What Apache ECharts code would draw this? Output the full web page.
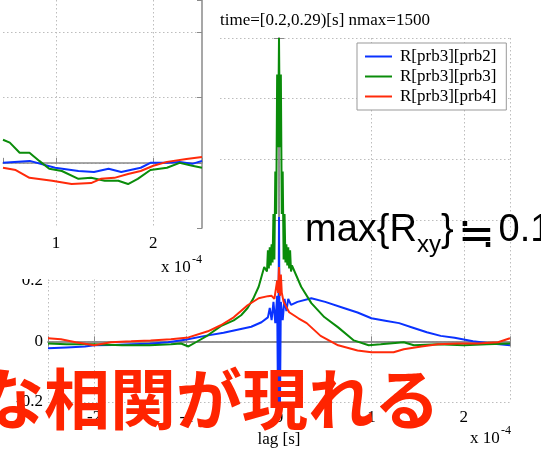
<!DOCTYPE html>
<html>
<head>
<meta charset="utf-8">
<script src="https://cdn.jsdelivr.net/npm/echarts@6/dist/echarts.min.js"></script>
<style>
html, body { margin: 0; padding: 0; background: #fff; }
#chart { width: 541px; height: 453px; }
</style>
</head>
<body>
<div id="chart"></div>
<script>
// Lag values are in units of 1e-4 s (the axes carry an "x 10^-4" multiplier).

// Main plot: cross-correlation of probe 3 with probes 2, 3, 4
const seriesNames = ['R[prb3][prb2]', 'R[prb3][prb3]', 'R[prb3][prb4]'];

const lagBlue = [-2.5,-2.3,-2.1,-2.0,-1.8,-1.6,-1.4,-1.2,-1.0,-0.8,-0.6,-0.45,-0.3,-0.19,-0.12,-0.1,-0.08,-0.06,-0.04,-0.02,-0.01,0,0.01,0.02,0.04,0.06,0.08,0.1,0.13,0.2,0.35,0.5,0.7,0.85,1.0,1.15,1.3,1.45,1.6,1.75,1.9,2.1,2.3,2.5];
const rBlue = [-0.023,-0.02,-0.017,-0.013,-0.012,-0.01,-0.008,-0.003,0.006,0.018,0.028,0.038,0.048,0.063,0.079,0.11,0.07,0.13,0.06,0.15,-0.25,0.41,-0.23,0.13,0.07,0.14,0.10,0.14,0.12,0.13,0.142,0.13,0.11,0.095,0.076,0.068,0.06,0.045,0.03,0.018,0.012,0.0,-0.007,-0.013];

const lagGreen = [-2.5,-2.3,-2.0,-1.7,-1.4,-1.17,-1.06,-0.98,-0.9,-0.77,-0.63,-0.49,-0.41,-0.34,-0.28,-0.22,-0.16,-0.14,-0.13,-0.12,-0.11,-0.1,-0.09,-0.08,-0.07,-0.06,-0.05,-0.04,-0.03,-0.02,-0.01,0,0.01,0.02,0.03,0.04,0.05,0.06,0.07,0.08,0.09,0.1,0.11,0.12,0.13,0.14,0.16,0.24,0.35,0.49,0.64,0.81,0.97,1.1,1.35,1.46,1.72,2.0,2.25,2.5];
const rGreen = [-0.007,-0.01,-0.01,-0.013,-0.013,-0.01,-0.007,-0.017,-0.003,0.02,0.05,0.069,0.086,0.11,0.14,0.18,0.245,0.25,0.23,0.30,0.24,0.31,0.25,0.32,0.26,0.42,0.27,0.56,0.42,0.88,0.64,1.0,0.64,0.88,0.42,0.56,0.27,0.42,0.26,0.32,0.25,0.31,0.24,0.30,0.23,0.25,0.245,0.18,0.126,0.08,0.046,0.003,-0.013,-0.01,-0.003,-0.013,-0.01,-0.013,-0.01,-0.007];

const lagRed = [-2.5,-2.36,-2.2,-2.0,-1.82,-1.6,-1.39,-1.17,-0.98,-0.77,-0.63,-0.49,-0.34,-0.22,-0.12,-0.08,-0.05,-0.03,-0.02,-0.01,0,0.01,0.02,0.03,0.05,0.11,0.21,0.3,0.45,0.64,0.85,1.0,1.24,1.35,1.54,1.72,1.94,2.15,2.37,2.5];
const rRed = [0.01,0.007,-0.003,-0.013,-0.003,0.0,0.003,0.007,0.013,0.033,0.053,0.079,0.119,0.142,0.149,0.15,0.14,0.14,0.2,0.16,0.245,0.15,0.22,0.16,0.13,0.096,0.076,0.06,0.018,-0.013,-0.03,-0.036,-0.036,-0.026,-0.017,-0.01,-0.007,-0.007,-0.003,0.01];

// Inset plot (enlarged positive-lag region of an earlier window)
const insetLagBlue = [0.455,0.73,0.99,1.23,1.39,1.54,1.67,1.87,1.97,2.14,2.27,2.4,2.5];
const insetBlue = [0.0,0.006,-0.015,-0.025,-0.028,-0.018,-0.028,-0.015,0.0,0.0,0.003,-0.003,0.006];
const insetLagGreen = [0.455,0.525,0.626,0.727,0.828,0.93,1.06,1.23,1.36,1.5,1.64,1.74,1.84,1.97,2.14,2.27,2.4,2.5];
const insetGreen = [0.071,0.062,0.031,0.031,0.006,-0.018,-0.025,-0.049,-0.046,-0.055,-0.055,-0.065,-0.049,-0.022,-0.015,0.0,-0.009,-0.015];
const insetLagRed = [0.455,0.586,0.727,0.96,1.16,1.36,1.46,1.6,1.74,1.87,2.0,2.14,2.34,2.5];
const insetRed = [-0.015,-0.022,-0.046,-0.055,-0.065,-0.062,-0.049,-0.046,-0.034,-0.025,-0.009,0.003,0.012,0.018];

const titleText = 'time=[0.2,0.29)[s] nmax=1500';
const xName = 'lag [s]';
const headline = 'な相関が現れる';
const noteMain = 'max{R', noteSub = 'xy', noteBrace = '}', noteApprox = '≒', noteValue = '0.1';

const colors = ['#0a32ff', '#0a8c0a', '#ff2a0a'];
const serif = 'Liberation Serif';
const sans = '"Liberation Sans"';
const cjk = '"Noto Sans CJK JP"';
const frameColor = '#8a8a8a';

const pts = (xs, ys) => xs.map((x, i) => [x, ys[i]]);

function textWidth(str, font) {
  const ctx = document.createElement('canvas').getContext('2d');
  ctx.font = font;
  return ctx.measureText(str).width;
}

const chart = echarts.init(document.getElementById('chart'), null, { renderer: 'canvas' });

const gridLine = { show: true, lineStyle: { color: '#bdbdbd', width: 1, type: [1.5, 2.5] } };
const insetGridLine = { show: true, showMinLine: false, showMaxLine: false,
  lineStyle: { color: '#bdbdbd', width: 1, type: [1.5, 2.5] } };
const frameLine = { show: true, lineStyle: { color: frameColor, width: 1.5 } };
const innerTick = { show: true, inside: true, length: 5, lineStyle: { color: frameColor, width: 1 } };
const tickLabel = { fontFamily: serif, fontSize: 17, color: '#000' };

function lineSeries(name, data, xi, yi, color, zlevel) {
  return {
    type: 'line', name, data, xAxisIndex: xi, yAxisIndex: yi,
    showSymbol: false, symbol: 'none', zlevel,
    lineStyle: { color, width: 2 }, itemStyle: { color },
    animation: false, clip: true
  };
}

// annotation pieces laid out left to right
const noteFont = 38, subFont = 24, approxFont = 44, noteX = 305;
const fMain = noteFont + 'px ' + sans;
const fSub = subFont + 'px ' + sans;
const fApprox = approxFont + 'px ' + cjk;
const xSub = noteX + textWidth(noteMain, fMain);
const xBrace = xSub + textWidth(noteSub, fSub);
const xApprox = xBrace + textWidth(noteBrace, fMain) + 4;
const xValue = xApprox + textWidth(noteApprox, fApprox) + 4;

chart.setOption({
  animation: false,
  backgroundColor: '#fff',
  title: {
    text: titleText, left: 220, top: 12, padding: 0,
    textStyle: { fontFamily: serif, fontSize: 17, fontWeight: 'normal', color: '#000' }
  },
  legend: {
    data: seriesNames, orient: 'vertical', left: 357, top: 43,
    padding: [5, 10, 5, 8], itemWidth: 27, itemHeight: 2, icon: 'rect', itemGap: 3,
    backgroundColor: '#fff', borderColor: '#999', borderWidth: 1, borderRadius: 0,
    textStyle: { fontFamily: serif, fontSize: 17, lineHeight: 17, color: '#000', padding: [0, 0, 0, 3] }
  },
  grid: [
    { left: 48, top: 38, width: 462, height: 364, containLabel: false },
    { left: 0, top: 0, width: 202, height: 228, containLabel: false }
  ],
  xAxis: [
    { type: 'value', gridIndex: 0, position: 'bottom', min: -2.5, max: 2.5, splitNumber: 5,
      axisLine: frameLine, axisTick: innerTick, splitLine: gridLine,
      axisLabel: Object.assign({ margin: 7, formatter: v => Number.isInteger(v) ? String(v) : '' }, tickLabel),
      name: xName, nameLocation: 'middle', nameGap: 24,
      nameTextStyle: { fontFamily: serif, fontSize: 17, color: '#000' } },
    { type: 'value', gridIndex: 0, position: 'top', min: -2.5, max: 2.5, splitNumber: 5,
      axisLine: frameLine, axisTick: innerTick, splitLine: { show: false }, axisLabel: { show: false } },
    { type: 'value', gridIndex: 1, position: 'bottom', min: 0.455, max: 2.5, splitNumber: 2, zlevel: 1,
      axisLine: frameLine, axisTick: innerTick, splitLine: insetGridLine,
      axisLabel: Object.assign({ margin: 7, formatter: v => Number.isInteger(v) ? String(v) : '' }, tickLabel) },
    { type: 'value', gridIndex: 1, position: 'top', min: 0.455, max: 2.5, splitNumber: 2, zlevel: 1,
      axisLine: { show: false }, axisTick: { show: false }, splitLine: { show: false }, axisLabel: { show: false } }
  ],
  yAxis: [
    { type: 'value', gridIndex: 0, position: 'left', min: -0.2, max: 1.0, interval: 0.2,
      axisLine: frameLine, axisTick: innerTick, splitLine: gridLine,
      axisLabel: Object.assign({ margin: 5, formatter: v => String(+v.toFixed(1)) }, tickLabel) },
    { type: 'value', gridIndex: 0, position: 'right', min: -0.2, max: 1.0, interval: 0.2,
      axisLine: frameLine, axisTick: innerTick, splitLine: { show: false }, axisLabel: { show: false } },
    { type: 'value', gridIndex: 1, position: 'left', min: -0.2, max: 0.5, interval: 0.2, zlevel: 1,
      axisLine: { show: false }, axisTick: { show: false }, splitLine: insetGridLine, axisLabel: { show: false } },
    { type: 'value', gridIndex: 1, position: 'right', min: -0.2, max: 0.5, interval: 0.2, zlevel: 1,
      axisLine: frameLine, axisTick: innerTick, splitLine: { show: false }, axisLabel: { show: false } }
  ],
  series: [
    lineSeries(seriesNames[0], pts(lagBlue, rBlue), 0, 0, colors[0], 0),
    lineSeries(seriesNames[1], pts(lagGreen, rGreen), 0, 0, colors[1], 0),
    lineSeries(seriesNames[2], pts(lagRed, rRed), 0, 0, colors[2], 0),
    lineSeries(seriesNames[0], pts(insetLagBlue, insetBlue), 2, 2, colors[0], 1),
    lineSeries(seriesNames[1], pts(insetLagGreen, insetGreen), 2, 2, colors[1], 1),
    lineSeries(seriesNames[2], pts(insetLagRed, insetRed), 2, 2, colors[2], 1)
  ],
  graphic: [
    // white panel behind the inset plot
    { type: 'rect', zlevel: 1, z: -10, silent: true,
      shape: { x: 0, y: 0, width: 220, height: 279 }, style: { fill: '#fff' } },
    // axis multipliers
    { type: 'text', zlevel: 1, z: 10, x: 161, y: 268,
      style: { text: 'x 10', font: '17px ' + serif, fill: '#000', verticalAlign: 'middle' } },
    { type: 'text', zlevel: 1, z: 10, x: 192, y: 260,
      style: { text: '-4', font: '12px ' + serif, fill: '#000', verticalAlign: 'middle' } },
    { type: 'text', zlevel: 0, z: 10, x: 470, y: 439,
      style: { text: 'x 10', font: '17px ' + serif, fill: '#000', verticalAlign: 'middle' } },
    { type: 'text', zlevel: 0, z: 10, x: 501, y: 431,
      style: { text: '-4', font: '12px ' + serif, fill: '#000', verticalAlign: 'middle' } },
    // annotation
    { type: 'text', zlevel: 2, x: noteX, y: 231,
      style: { text: noteMain, font: fMain, fill: '#000', verticalAlign: 'middle' } },
    { type: 'text', zlevel: 2, x: xSub, y: 245,
      style: { text: noteSub, font: fSub, fill: '#000', verticalAlign: 'middle' } },
    { type: 'text', zlevel: 2, x: xBrace, y: 231,
      style: { text: noteBrace, font: fMain, fill: '#000', verticalAlign: 'middle' } },
    { type: 'text', zlevel: 2, x: xApprox, y: 231,
      style: { text: noteApprox, font: fApprox, fill: '#000', verticalAlign: 'middle' } },
    { type: 'text', zlevel: 2, x: xValue, y: 231,
      style: { text: noteValue, font: fMain, fill: '#000', verticalAlign: 'middle' } },
    // caption
    { type: 'text', zlevel: 2, x: -22, y: 399,
      style: { text: headline, font: 'bold 66px ' + cjk, fill: '#ff2400', verticalAlign: 'middle',
        shadowColor: 'rgba(0,0,0,0.45)', shadowBlur: 4, shadowOffsetX: 3, shadowOffsetY: 3 } }
  ]
});
</script>
</body>
</html>
